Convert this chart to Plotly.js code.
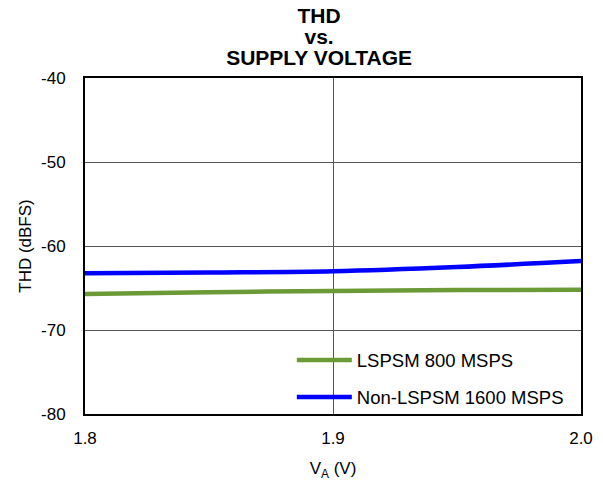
<!DOCTYPE html>
<html>
<head>
<meta charset="utf-8">
<script src="https://cdn.plot.ly/plotly-3.0.1.min.js"></script>
<style>html,body{margin:0;padding:0;background:#fff;}#chart{width:603px;height:483px;}</style>
</head>
<body>
<div id="chart"></div>
<script>
const supplyVoltage = [1.8, 1.85, 1.9, 1.95, 2.0];
const lspsm800 = [-65.7, -65.5, -65.35, -65.25, -65.2];
const nonLspsm1600 = [-63.25, -63.15, -63.0, -62.5, -61.8];
const seriesNames = ["LSPSM 800 MSPS", "Non-LSPSM 1600 MSPS"];
const yTickVals = [-80, -70, -60, -50, -40];
const yTickText = ["-80", "-70", "-60", "-50", "-40"];
const xTickVals = [1.8, 1.9, 2.0];
const xTickText = ["1.8", "1.9", "2.0"];
const titleLines = ["THD", "vs.", "SUPPLY VOLTAGE"];

const font = "Arial, 'Liberation Sans', sans-serif";
const traces = [
  {x: supplyVoltage, y: lspsm800, name: seriesNames[0], mode: 'lines', legendgroup: 'a',
   line: {color: '#6b9a37', width: 4.5, shape: 'spline'}},
  {x: supplyVoltage, y: nonLspsm1600, name: seriesNames[1], mode: 'lines', legendgroup: 'b',
   line: {color: '#0000ff', width: 4.5, shape: 'spline'}}
];
const titleText = titleLines.map(s => '<b><span style="font-size:21px">' + s + '</span></b>').join('<br>');
const layout = {
  width: 603, height: 483,
  margin: {l: 85, r: 22, t: 78, b: 69},
  paper_bgcolor: '#fff', plot_bgcolor: '#fff',
  font: {family: font, color: '#000', size: 17},
  title: {text: titleText, font: {family: font, size: 16, color: '#000'},
          x: 0.472, xanchor: 'center', xref: 'paper', y: 0.9524, yref: 'container', yanchor: 'bottom', pad: {b: 0}},
  xaxis: {range: [1.8, 2.0], tickvals: xTickVals, ticktext: xTickText, showgrid: true, gridcolor: '#555', gridwidth: 1,
          showline: true, linecolor: '#000', linewidth: 2, mirror: true, ticks: '', zeroline: false,
          ticklabelstandoff: 8,
          title: {text: 'V<sub>A</sub> (V)', font: {size: 17}, standoff: 15}, tickfont: {size: 17}},
  yaxis: {range: [-80, -40], tickvals: yTickVals, ticktext: yTickText, showgrid: true, gridcolor: '#555', gridwidth: 1,
          showline: true, linecolor: '#000', linewidth: 2, mirror: true, ticks: '', zeroline: false,
          ticklabelstandoff: 14,
          title: {text: 'THD (dBFS)', font: {size: 17}, standoff: 5}, tickfont: {size: 17}},
  showlegend: true,
  legend: {x: 0.417, xanchor: 'left', y: 0.216, yanchor: 'top', bgcolor: 'rgba(0,0,0,0)', itemwidth: 55,
           font: {size: 18.5}, traceorder: 'grouped', tracegroupgap: 10}
};
Plotly.newPlot('chart', traces, layout, {displayModeBar: false, staticPlot: true});
</script>
</body>
</html>
